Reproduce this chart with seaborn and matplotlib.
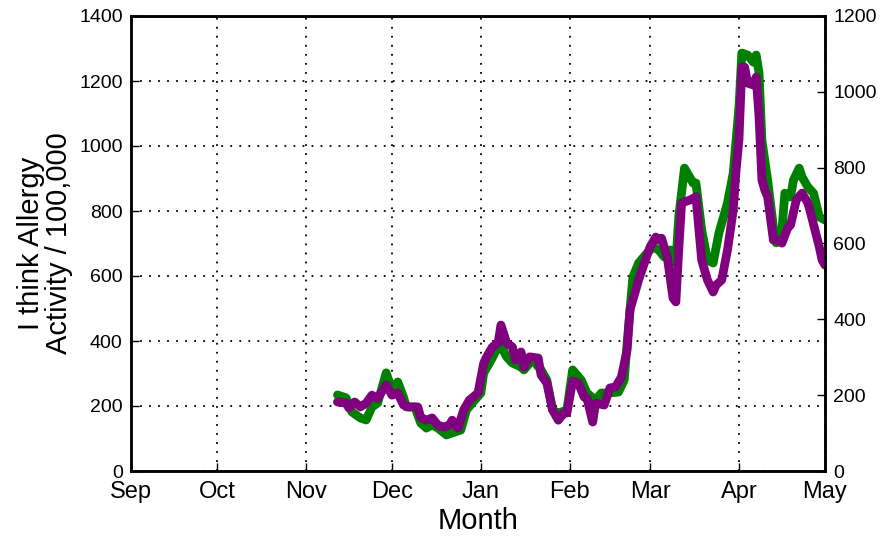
import numpy as np
import pandas as pd
import seaborn as sns
import matplotlib.pyplot as plt
import matplotlib.dates as mdates

# ── data ────────────────────────────────────────────────────────────────
green_dates = [
    "2012-11-12", "2012-11-15", "2012-11-17", "2012-11-20", "2012-11-22", "2012-11-24",
    "2012-11-26", "2012-11-29", "2012-12-01", "2012-12-03", "2012-12-05", "2012-12-06",
    "2012-12-09", "2012-12-11", "2012-12-13", "2012-12-15", "2012-12-17", "2012-12-20",
    "2012-12-22", "2012-12-25", "2012-12-27", "2012-12-29", "2013-01-01", "2013-01-02",
    "2013-01-04", "2013-01-07", "2013-01-08", "2013-01-10", "2013-01-12", "2013-01-15",
    "2013-01-16", "2013-01-19", "2013-01-22", "2013-01-24", "2013-01-26", "2013-01-28",
    "2013-01-31", "2013-02-02", "2013-02-05", "2013-02-07", "2013-02-10", "2013-02-12",
    "2013-02-15", "2013-02-18", "2013-02-20", "2013-02-21", "2013-02-23", "2013-02-25",
    "2013-02-28", "2013-03-02", "2013-03-04", "2013-03-06", "2013-03-08", "2013-03-10",
    "2013-03-11", "2013-03-13", "2013-03-16", "2013-03-17", "2013-03-19", "2013-03-21",
    "2013-03-23", "2013-03-25", "2013-03-28", "2013-03-30", "2013-04-01", "2013-04-02",
    "2013-04-04", "2013-04-06", "2013-04-07", "2013-04-08", "2013-04-09", "2013-04-11",
    "2013-04-13", "2013-04-14", "2013-04-16", "2013-04-17", "2013-04-19", "2013-04-20",
    "2013-04-22", "2013-04-23", "2013-04-25", "2013-04-27", "2013-04-29", "2013-05-01",
]
green_vals = [
    234, 225, 182, 163, 157, 197,
    209, 302, 249, 274, 228, 197,
    197, 148, 132, 142, 132, 111,
    117, 126, 188, 209, 240, 302,
    332, 382, 385, 351, 332, 320,
    311, 342, 311, 280, 188, 178,
    188, 311, 280, 240, 218, 240,
    240, 243, 280, 394, 597, 640,
    671, 689, 680, 658, 680, 640,
    782, 932, 886, 886, 742, 649,
    640, 732, 825, 917, 1120, 1286,
    1280, 1258, 1280, 1225, 1018, 895,
    751, 702, 742, 855, 843, 895,
    932, 905, 874, 855, 782, 772,
]

purple_dates = [
    "2012-11-12", "2012-11-15", "2012-11-16", "2012-11-18", "2012-11-20", "2012-11-22",
    "2012-11-24", "2012-11-26", "2012-11-29", "2012-12-01", "2012-12-03", "2012-12-05",
    "2012-12-07", "2012-12-10", "2012-12-11", "2012-12-13", "2012-12-15", "2012-12-17",
    "2012-12-19", "2012-12-21", "2012-12-22", "2012-12-24", "2012-12-26", "2012-12-28",
    "2012-12-31", "2013-01-02", "2013-01-03", "2013-01-05", "2013-01-07", "2013-01-08",
    "2013-01-10", "2013-01-12", "2013-01-13", "2013-01-15", "2013-01-16", "2013-01-18",
    "2013-01-21", "2013-01-22", "2013-01-24", "2013-01-26", "2013-01-28", "2013-01-30",
    "2013-01-31", "2013-02-02", "2013-02-04", "2013-02-06", "2013-02-07", "2013-02-09",
    "2013-02-10", "2013-02-13", "2013-02-15", "2013-02-17", "2013-02-19", "2013-02-21",
    "2013-02-22", "2013-02-24", "2013-02-25", "2013-02-27", "2013-03-01", "2013-03-03",
    "2013-03-04", "2013-03-05", "2013-03-07", "2013-03-09", "2013-03-10", "2013-03-11",
    "2013-03-12", "2013-03-15", "2013-03-17", "2013-03-19", "2013-03-21", "2013-03-23",
    "2013-03-24", "2013-03-26", "2013-03-28", "2013-03-30", "2013-03-31", "2013-04-01",
    "2013-04-02", "2013-04-03", "2013-04-04", "2013-04-06", "2013-04-07", "2013-04-08",
    "2013-04-09", "2013-04-10", "2013-04-11", "2013-04-13", "2013-04-15", "2013-04-16",
    "2013-04-18", "2013-04-19", "2013-04-21", "2013-04-23", "2013-04-25", "2013-04-26",
    "2013-04-29", "2013-04-30", "2013-05-01",
]
purple_vals = [
    182, 179, 166, 182, 169, 179,
    200, 192, 227, 200, 206, 174,
    169, 169, 142, 134, 140, 121,
    116, 121, 134, 113, 161, 187,
    206, 285, 301, 327, 338, 385,
    338, 327, 293, 314, 274, 301,
    298, 253, 232, 161, 134, 153,
    153, 237, 232, 195, 192, 129,
    179, 174, 219, 222, 248, 319,
    425, 477, 504, 548, 591, 617,
    609, 614, 564, 456, 446, 583,
    707, 715, 723, 556, 504, 472,
    490, 504, 583, 688, 794, 873,
    1065, 1065, 1023, 1018, 1039, 933,
    767, 741, 723, 609, 609, 601,
    641, 649, 715, 733, 707, 680,
    591, 556, 543,
]

green = pd.DataFrame({"date": pd.to_datetime(green_dates), "value": green_vals})
purple = pd.DataFrame({"date": pd.to_datetime(purple_dates), "value": purple_vals})

# ── style ───────────────────────────────────────────────────────────────
sns.set_style("ticks")
plt.rcParams["font.family"] = ["Liberation Sans", "DejaVu Sans"]
plt.rcParams["xtick.direction"] = "in"
plt.rcParams["ytick.direction"] = "in"
for k in ("text.color", "axes.labelcolor", "xtick.color", "ytick.color"):
    plt.rcParams[k] = "black"

fig = plt.figure(figsize=(8.84, 5.42), dpi=100)
ax = fig.add_axes([131 / 884, 71 / 542, 694 / 884, 455 / 542])
ax2 = ax.twinx()

sns.lineplot(data=green, x="date", y="value", ax=ax, color="green",
             linewidth=6.3, solid_joinstyle="round", solid_capstyle="round")
sns.lineplot(data=purple, x="date", y="value", ax=ax2, color="purple",
             linewidth=6.3, solid_joinstyle="round", solid_capstyle="round")

ax.set_xlim(pd.Timestamp("2012-09-01"), pd.Timestamp("2013-05-01"))
ax.set_ylim(0, 1400)
ax2.set_ylim(0, 1200)
ax.set_yticks(np.arange(0, 1401, 200))
ax2.set_yticks(np.arange(0, 1201, 200))

ax.xaxis.set_major_locator(mdates.MonthLocator())
ax.xaxis.set_major_formatter(mdates.DateFormatter("%b"))

ax.grid(True, color="black", linestyle=(0, (1, 4)), linewidth=1.3)
ax2.grid(False)

for a in (ax, ax2):
    for s in a.spines.values():
        s.set_visible(True)
        s.set_linewidth(1.8)
        s.set_color("black")

ax.tick_params(axis="x", labelsize=17, length=6, width=1, pad=7, top=False)
ax.tick_params(axis="y", labelsize=14, length=6, width=1, pad=6, right=False)
ax2.tick_params(axis="y", labelsize=14, length=6, width=1, pad=6)

ax.set_xlabel("Month", fontsize=21, labelpad=3)
ax.set_ylabel("I think Allergy\nActivity / 100,000", fontsize=21, labelpad=4, linespacing=1.0)
ax2.set_ylabel("")

fig.savefig("out.png", dpi=100)
